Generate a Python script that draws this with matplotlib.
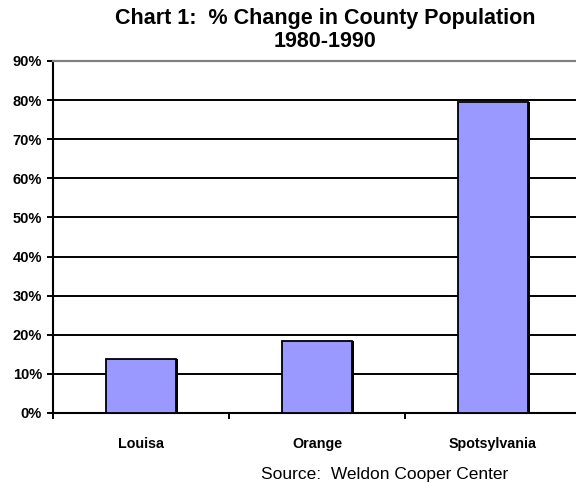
import numpy as np
from matplotlib import pyplot as plt
from matplotlib.ticker import FixedLocator

plt.rcParams['font.family'] = ['Liberation Sans', 'DejaVu Sans']

counties = ['Louisa', 'Orange', 'Spotsylvania']
pct_change = [13.9, 18.4, 79.6]
yticks = [0, 10, 20, 30, 40, 50, 60, 70, 80, 90]

W, H = 576, 492
fig = plt.figure(figsize=(W / 100, H / 100), dpi=100)
ax = fig.add_axes([53 / W, 1 - 413 / H, (581 - 53) / W, (413 - 61) / H])

x = np.arange(len(counties))
# shadow first, then the bar on top
ax.bar(x + 0.012, pct_change, width=0.4, color='black', zorder=2)
ax.bar(x, pct_change, width=0.4, color='#9999FF', edgecolor='black',
       linewidth=1.3, zorder=3)

ax.set_xlim(-0.5, 2.5)
ax.set_ylim(0, 90)
ax.set_yticks(yticks)
ax.set_yticklabels([f'{v}%' for v in yticks], fontsize=10.5, fontweight='bold')
for v in yticks[1:-1]:
    ax.axhline(v, color='black', linewidth=1.4, zorder=1)

ax.set_xticks(x)
ax.set_xticklabels(counties, fontsize=10.3, fontweight='bold')
ax.xaxis.set_minor_locator(FixedLocator([-0.5, 0.5, 1.5, 2.5]))
ax.tick_params(axis='x', which='major', length=0, pad=17)
ax.tick_params(axis='x', which='minor', length=4.5, width=1.4, direction='out')
ax.tick_params(axis='y', length=4.5, width=1.4, direction='out', pad=3.5)

ax.spines['right'].set_visible(False)
ax.spines['top'].set_color('#808080')
ax.spines['top'].set_linewidth(1.6)
ax.spines['left'].set_linewidth(1.5)
ax.spines['bottom'].set_linewidth(1.5)

fig.text(325 / W, 1 - 8 / H, 'Chart 1:  % Change in County Population\n1980-1990',
         ha='center', va='top', fontsize=15.5, fontweight='bold', linespacing=1.1)
fig.text(385 / W, 1 - 474 / H, 'Source:  Weldon Cooper Center',
         ha='center', va='center', fontsize=12.5)

fig.savefig('out.png', dpi=100)
